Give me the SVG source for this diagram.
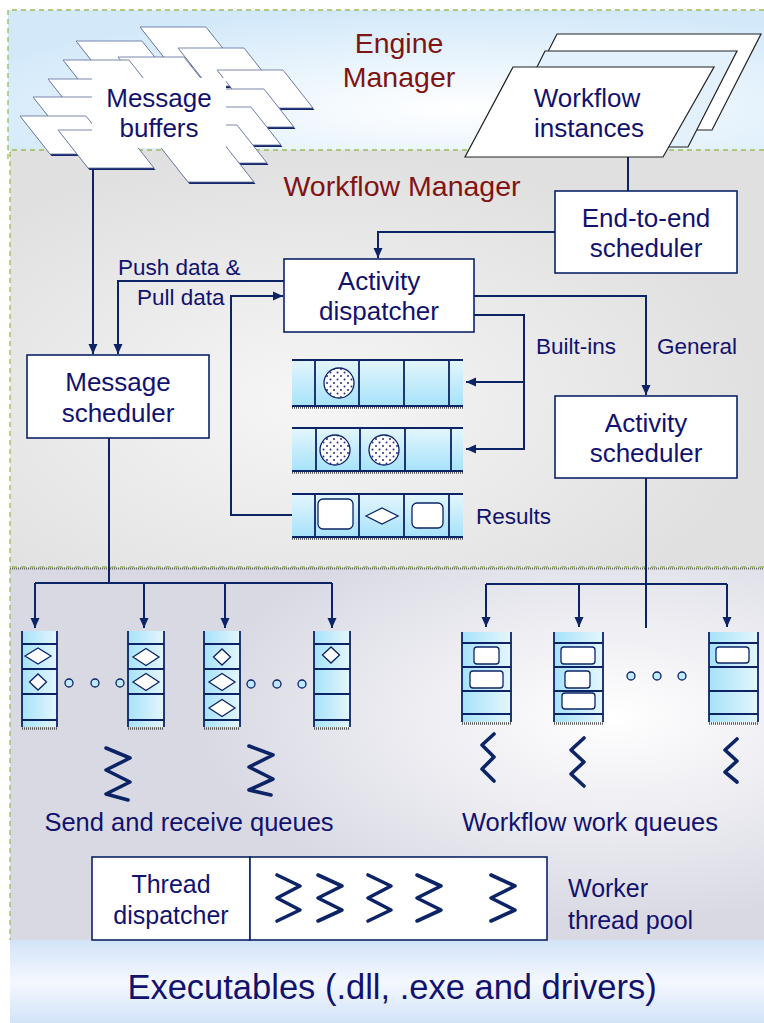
<svg xmlns="http://www.w3.org/2000/svg" width="764" height="1023" viewBox="0 0 764 1023">
<defs>
<radialGradient id="gEng" cx="0.6" cy="0.7" r="0.7"><stop offset="0" stop-color="#ffffff"/><stop offset="1" stop-color="#d3e9fa"/></radialGradient>
<radialGradient id="gWf" cx="0.4" cy="0.6" r="0.6"><stop offset="0" stop-color="#f6f6f6"/><stop offset="1" stop-color="#e0e0e0"/></radialGradient>
<radialGradient id="gLow" cx="0.8" cy="0.4" r="0.55"><stop offset="0" stop-color="#ffffff"/><stop offset="1" stop-color="#d9d9e4"/></radialGradient>
<linearGradient id="gBot" x1="0" y1="0" x2="0" y2="1"><stop offset="0" stop-color="#d2e3f8"/><stop offset="0.5" stop-color="#f4f8fe"/><stop offset="1" stop-color="#d2e3f8"/></linearGradient>
<linearGradient id="gVq" x1="0" y1="0" x2="1" y2="0"><stop offset="0" stop-color="#a6e2fa"/><stop offset="1" stop-color="#e4f6fd"/></linearGradient>
<linearGradient id="gHq" x1="0" y1="0" x2="0" y2="1"><stop offset="0" stop-color="#e4f6fd"/><stop offset="1" stop-color="#a6e2fa"/></linearGradient>
<pattern id="dots" width="7" height="7" patternUnits="userSpaceOnUse"><rect width="7" height="7" fill="#fff"/><circle cx="1.5" cy="1.5" r="1" fill="#2a2f8a"/><circle cx="5" cy="5" r="1" fill="#2a2f8a"/></pattern>
<polygon id="pb" points="0,0 66,0 96,38 30,38"/>
<marker id="ar" viewBox="0 0 10 10" refX="10" refY="5" markerWidth="10" markerHeight="10" markerUnits="userSpaceOnUse" orient="auto"><path d="M0,0.5 L10,5 L0,9.5 z" fill="#0c2466"/></marker>
<style>
.ln{fill:none;stroke:#0c2466;stroke-width:2}
.box{fill:#fff;stroke:#0c2466;stroke-width:1.6}
.t{font-family:"Liberation Sans",Arial,sans-serif;fill:#12126e;text-anchor:middle}
.tl{font-family:"Liberation Sans",Arial,sans-serif;fill:#12126e}
.ti{font-family:"Liberation Sans",Arial,sans-serif;fill:#801414;text-anchor:middle;font-size:28.5px}
.n{font-size:26px}
.s{font-size:22.5px}
.q{stroke:#0c2466;stroke-width:1.8;fill:none}
.hatch{stroke:#555;stroke-width:2.5;stroke-dasharray:1,1}
.dm{fill:#fff;stroke:#0c2466;stroke-width:1.3}
.rr{fill:#fff;stroke:#0c2466;stroke-width:1.3}
.dot{fill:#bfeafb;stroke:#0c2466;stroke-width:1.3}
.sp{fill:none;stroke:#0c2466;stroke-width:3.6;stroke-linejoin:round;stroke-linecap:round}
.bd{fill:none;stroke:#9bbb59;stroke-width:1.3;stroke-dasharray:5,4}
.mbs{fill:#15256a}
.mbw{fill:#fff;stroke:#5a6a9a;stroke-width:0.8}
</style>
</defs>

<g id="panels">
<rect x="8" y="10" width="756" height="141" fill="url(#gEng)"/>
<rect x="10" y="150" width="754" height="418" fill="url(#gWf)"/>
<rect x="10" y="567" width="754" height="374" fill="url(#gLow)"/>
<rect x="10" y="940" width="754" height="83" fill="url(#gBot)"/>
<path class="bd" d="M764,10 H8 V163"/>
<path class="bd" d="M764,150 H10 V567"/>
<line x1="10" y1="568.5" x2="764" y2="568.5" stroke="#666" stroke-width="2" stroke-dasharray="1,1"/>
<path class="bd" d="M764,567 H10 V940"/>
</g>

<g id="titles">
<text class="ti" x="399" y="53">Engine</text>
<text class="ti" x="399" y="87">Manager</text>
<text class="ti" x="402" y="196">Workflow Manager</text>
</g>

<g id="connectors">
<path class="ln" d="M93,168 V354" marker-end="url(#ar)"/>
<path class="ln" d="M284,281 H118 V354" marker-end="url(#ar)"/>
<path class="ln" d="M292,515 H231 V296 H283" marker-end="url(#ar)"/>
<path class="ln" d="M555,232 H378 V258" marker-end="url(#ar)"/>
<path class="ln" d="M628,157 V191"/>
<path class="ln" d="M474,296 H646 V395" marker-end="url(#ar)"/>
<path class="ln" d="M474,315 H524 V449 H466" marker-end="url(#ar)"/>
<path class="ln" d="M524,382 H466" marker-end="url(#ar)"/>
<path class="ln" d="M109,438 V583"/>
<path class="ln" d="M35,583 H332"/>
<path class="ln" d="M35,583 V628" marker-end="url(#ar)"/>
<path class="ln" d="M144,583 V628" marker-end="url(#ar)"/>
<path class="ln" d="M225,583 V628" marker-end="url(#ar)"/>
<path class="ln" d="M332,583 V628" marker-end="url(#ar)"/>
<path class="ln" d="M646,478 V628"/>
<path class="ln" d="M486,584 H727"/>
<path class="ln" d="M486,584 V627" marker-end="url(#ar)"/>
<path class="ln" d="M579,584 V627" marker-end="url(#ar)"/>
<path class="ln" d="M727,584 V627" marker-end="url(#ar)"/>
<text class="tl s" x="118" y="275">Push data &amp;</text>
<text class="tl s" x="137" y="305">Pull data</text>
<text class="tl s" x="536" y="354">Built-ins</text>
<text class="tl s" x="657" y="354">General</text>
<text class="tl s" x="476" y="524">Results</text>
</g>

<g id="message-buffers">
<use href="#pb" class="mbs" x="141.5" y="29"/><use href="#pb" class="mbw" x="140" y="27"/>
<use href="#pb" class="mbs" x="77.5" y="43"/><use href="#pb" class="mbw" x="76" y="41"/>
<use href="#pb" class="mbs" x="179.5" y="50"/><use href="#pb" class="mbw" x="178" y="48"/>
<use href="#pb" class="mbs" x="119.5" y="59"/><use href="#pb" class="mbw" x="118" y="57"/>
<use href="#pb" class="mbs" x="64.5" y="62"/><use href="#pb" class="mbw" x="63" y="60"/>
<use href="#pb" class="mbs" x="218.5" y="72"/><use href="#pb" class="mbw" x="217" y="70"/>
<use href="#pb" class="mbs" x="49.5" y="81"/><use href="#pb" class="mbw" x="48" y="79"/>
<use href="#pb" class="mbs" x="199.5" y="91"/><use href="#pb" class="mbw" x="198" y="89"/>
<use href="#pb" class="mbs" x="34.5" y="99"/><use href="#pb" class="mbw" x="33" y="97"/>
<use href="#pb" class="mbs" x="186.5" y="109"/><use href="#pb" class="mbw" x="185" y="107"/>
<use href="#pb" class="mbs" x="21.5" y="118"/><use href="#pb" class="mbw" x="20" y="116"/>
<use href="#pb" class="mbs" x="172.5" y="127"/><use href="#pb" class="mbw" x="171" y="125"/>
<use href="#pb" class="mbs" x="59.5" y="132"/><use href="#pb" class="mbw" x="58" y="130"/>
<use href="#pb" class="mbs" x="159.5" y="146"/><use href="#pb" class="mbw" x="158" y="144"/>
<rect x="92" y="78" width="134" height="70" fill="#fff"/>
<text class="t n" x="159" y="107">Message</text>
<text class="t n" x="159" y="137">buffers</text>
</g>

<g id="workflow-instances">
<polygon points="557,34 761,34 712,130 508,130" fill="#fff" stroke="#222" stroke-width="1.2"/>
<polygon points="545,51 737,51 688,147 497,147" fill="#e2f1fc" stroke="#222" stroke-width="1.2"/>
<polygon points="513,67 714,67 663,157 465,157" fill="#fff" stroke="#222" stroke-width="1.2"/>
<text class="t n" x="587" y="107">Workflow</text>
<text class="t n" x="589" y="137">instances</text>
</g>

<g id="end-to-end-scheduler">
<rect class="box" x="555" y="191" width="182" height="82"/>
<text class="t n" x="646" y="227">End-to-end</text>
<text class="t n" x="646" y="257">scheduler</text>
</g>

<g id="activity-dispatcher">
<rect class="box" x="284" y="259" width="190" height="73"/>
<text class="t n" x="379" y="290">Activity</text>
<text class="t n" x="379" y="320">dispatcher</text>
</g>

<g id="message-scheduler">
<rect class="box" x="27" y="355" width="182" height="83"/>
<text class="t n" x="118" y="391">Message</text>
<text class="t n" x="118" y="422">scheduler</text>
</g>

<g id="activity-scheduler">
<rect class="box" x="555" y="396" width="182" height="82"/>
<text class="t n" x="646" y="432">Activity</text>
<text class="t n" x="646" y="462">scheduler</text>
</g>

<g id="builtin-queue-1">
<rect x="292" y="360" width="171" height="46" fill="url(#gHq)"/>
<line class="hatch" x1="292" y1="407.5" x2="463" y2="407.5"/>
<path class="q" d="M292,360 H463 M292,406 H463 M315,360 V406 M359,360 V406 M404,360 V406 M449,360 V406"/>
<circle cx="339" cy="383" r="15" fill="url(#dots)" stroke="#0c2466" stroke-width="1.3"/>
</g>

<g id="builtin-queue-2">
<rect x="292" y="428" width="171" height="43" fill="url(#gHq)"/>
<line class="hatch" x1="292" y1="472.5" x2="463" y2="472.5"/>
<path class="q" d="M292,428 H463 M292,471 H463 M316,428 V471 M360,428 V471 M405,428 V471 M451,428 V471"/>
<circle cx="335" cy="450" r="15" fill="url(#dots)" stroke="#0c2466" stroke-width="1.3"/>
<circle cx="384" cy="450" r="15" fill="url(#dots)" stroke="#0c2466" stroke-width="1.3"/>
</g>

<g id="results-queue">
<rect x="292" y="494" width="171" height="43" fill="url(#gHq)"/>
<line class="hatch" x1="292" y1="538.5" x2="463" y2="538.5"/>
<path class="q" d="M292,494 H463 M292,537 H463 M315,494 V537 M359,494 V537 M404,494 V537 M449,494 V537"/>
<rect class="rr" x="318" y="499" width="35" height="30" rx="5"/>
<polygon class="dm" points="366,516 382,508 398,516 382,524"/>
<rect class="rr" x="412" y="503" width="31" height="25" rx="5"/>
</g>

<g id="send-queue-1">
<rect x="22" y="631" width="35" height="96" fill="url(#gVq)"/>
<line class="hatch" x1="22" y1="728.5" x2="57" y2="728.5"/>
<path class="q" d="M22,631 V727 M57,631 V727 M22,644 H57 M22,669 H57 M22,694 H57 M22,720 H57"/>
<polygon class="dm" points="25,656 38,648 51,656 38,664"/>
<polygon class="dm" points="29.5,682 38,674 46.5,682 38,690"/>
</g>
<g id="send-queue-2">
<rect x="128" y="631" width="36" height="96" fill="url(#gVq)"/>
<line class="hatch" x1="128" y1="728.5" x2="164" y2="728.5"/>
<path class="q" d="M128,631 V727 M164,631 V727 M128,644 H164 M128,669 H164 M128,694 H164 M128,720 H164"/>
<polygon class="dm" points="133,657 146,648.5 159,657 146,665.5"/>
<polygon class="dm" points="133,682 146,673.5 159,682 146,690.5"/>
</g>
<g id="send-queue-3">
<rect x="204" y="631" width="36" height="96" fill="url(#gVq)"/>
<line class="hatch" x1="204" y1="728.5" x2="240" y2="728.5"/>
<path class="q" d="M204,631 V727 M240,631 V727 M204,644 H240 M204,669 H240 M204,694 H240 M204,720 H240"/>
<polygon class="dm" points="213.5,657 222,649 230.5,657 222,665"/>
<polygon class="dm" points="209,682 222,673.5 235,682 222,690.5"/>
<polygon class="dm" points="209,708 222,699.5 235,708 222,716.5"/>
</g>
<g id="send-queue-4">
<rect x="314" y="631" width="36" height="96" fill="url(#gVq)"/>
<line class="hatch" x1="314" y1="728.5" x2="350" y2="728.5"/>
<path class="q" d="M314,631 V727 M350,631 V727 M314,644 H350 M314,669 H350 M314,694 H350 M314,720 H350"/>
<polygon class="dm" points="322.5,655 331,647 339.5,655 331,663"/>
</g>
<g id="send-dots">
<circle class="dot" cx="69" cy="683" r="4"/><circle class="dot" cx="95" cy="683" r="4"/><circle class="dot" cx="120" cy="683" r="4"/>
<circle class="dot" cx="251" cy="684" r="4"/><circle class="dot" cx="277" cy="684" r="4"/><circle class="dot" cx="302" cy="684" r="4"/>
</g>

<g id="work-queue-1">
<rect x="462" y="632" width="49" height="90" fill="url(#gVq)"/>
<line class="hatch" x1="462" y1="723.5" x2="511" y2="723.5"/>
<path class="q" d="M462,632 V722 M511,632 V722 M462,643 H511 M462,667 H511 M462,691 H511 M462,714 H511"/>
<rect class="rr" x="474" y="647" width="25" height="17" rx="3"/>
<rect class="rr" x="470" y="671" width="33" height="17" rx="3"/>
</g>
<g id="work-queue-2">
<rect x="554" y="632" width="49" height="90" fill="url(#gVq)"/>
<line class="hatch" x1="554" y1="723.5" x2="603" y2="723.5"/>
<path class="q" d="M554,632 V722 M603,632 V722 M554,643 H603 M554,667 H603 M554,691 H603 M554,714 H603"/>
<rect class="rr" x="561" y="647" width="34" height="17" rx="3"/>
<rect class="rr" x="565" y="671" width="25" height="17" rx="3"/>
<rect class="rr" x="562" y="693" width="33" height="16" rx="3"/>
</g>
<g id="work-queue-3">
<rect x="709" y="632" width="49" height="90" fill="url(#gVq)"/>
<line class="hatch" x1="709" y1="723.5" x2="758" y2="723.5"/>
<path class="q" d="M709,632 V722 M758,632 V722 M709,643 H758 M709,667 H758 M709,691 H758 M709,714 H758"/>
<rect class="rr" x="716" y="647" width="33" height="16" rx="3"/>
</g>
<g id="work-dots">
<circle class="dot" cx="631" cy="676" r="4"/><circle class="dot" cx="657" cy="676" r="4"/><circle class="dot" cx="682" cy="676" r="4"/>
</g>

<g id="queue-threads">
<polyline class="sp" points="106,748 130,758 106,770 130,782 106,794 128,800"/>
<polyline class="sp" points="249,746 273,755 249,767 273,779 249,790 271,795"/>
<polyline class="sp" points="494,734 482,745 494,757 482,769 494,781"/>
<polyline class="sp" points="584,738 571,750 584,762 571,774 584,786"/>
<polyline class="sp" points="737,739 725,750 737,761 725,772 737,782"/>
</g>

<g id="queue-labels">
<text class="t" style="font-size:25.5px" x="189" y="831">Send and receive queues</text>
<text class="t" style="font-size:25.5px" x="590" y="831">Workflow work queues</text>
</g>

<g id="thread-dispatcher">
<rect class="box" x="92" y="857" width="158" height="83"/>
<text class="t" style="font-size:25px" x="171" y="893">Thread</text>
<text class="t" style="font-size:25px" x="171" y="924">dispatcher</text>
</g>

<g id="worker-thread-pool">
<rect class="box" x="250" y="857" width="297" height="83"/>
<polyline class="sp" points="277,875 300,886 277,898 300,910 277,921"/>
<polyline class="sp" points="318,875 342,886 318,898 342,910 318,921"/>
<polyline class="sp" points="368,875 391,886 368,898 391,910 368,921"/>
<polyline class="sp" points="417,875 441,886 417,898 441,910 417,921"/>
<polyline class="sp" points="491,875 515,886 491,898 515,910 491,921"/>
<text class="tl" style="font-size:25px" x="568" y="897">Worker</text>
<text class="tl" style="font-size:25px" x="568" y="929">thread pool</text>
</g>

<g id="executables">
<text class="t" style="font-size:34.5px" x="392" y="999">Executables (.dll, .exe and drivers)</text>
</g>
</svg>
